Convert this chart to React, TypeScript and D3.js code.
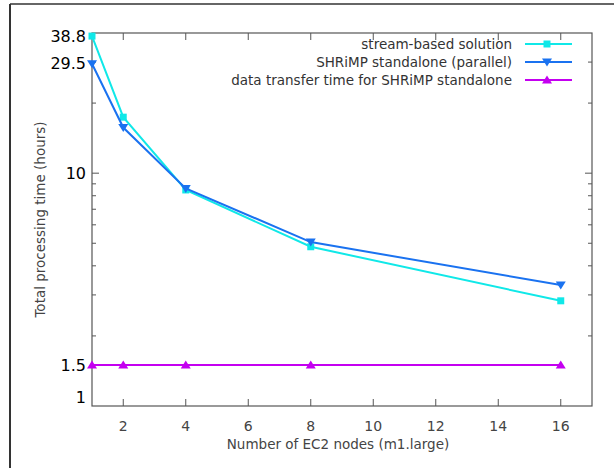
import { useEffect, useRef } from "react";
import * as d3 from "d3";

const nodes = [1, 2, 4, 8, 16];
const streamBased = [38.8, 17.4, 8.47, 4.83, 2.83];
const shrimpParallel = [29.5, 15.7, 8.6, 5.06, 3.31];
const transferTime = [1.5, 1.5, 1.5, 1.5, 1.5];

const seriesNames = [
  "stream-based solution",
  "SHRiMP standalone (parallel)",
  "data transfer time for SHRiMP standalone",
];
const seriesColors = ["#10e8e8", "#1a72f0", "#c400f0"];
const seriesSymbols = ["square", "down", "up"];

const xTicks = [2, 4, 6, 8, 10, 12, 14, 16];
const yLabels = [38.8, 29.5, 10, 1.5, 1];
const yMajor = [10];
const yMinor = [2, 3, 4, 5, 6, 7, 8, 9, 20, 30];

function App() {
  const svgRef = useRef(null);

  const width = 614;
  const height = 468;
  const margin = { top: 33, right: 22, bottom: 62, left: 92 };

  useEffect(() => {
    document.body.style.margin = "0";
    const svg = d3.select(svgRef.current);
    svg.selectAll("*").remove();

    const x = d3.scaleLinear().domain([1, 17]).range([margin.left, width - margin.right]);
    const y = d3.scaleLog().domain([1, 40]).range([height - margin.bottom, margin.top]);
    const x0 = margin.left, x1 = width - margin.right;
    const y0 = height - margin.bottom, y1 = margin.top;
    const font = "DejaVu Sans, sans-serif";
    const axisColor = "#555";

    // outer window edge
    svg.append("line").attr("x1", 10).attr("x2", 10).attr("y1", 4).attr("y2", height)
      .attr("stroke", "#333").attr("stroke-width", 2);
    svg.append("line").attr("x1", 10).attr("x2", width).attr("y1", 4).attr("y2", 4)
      .attr("stroke", "#333").attr("stroke-width", 1.5);

    const ticks = svg.append("g").attr("stroke", axisColor).attr("stroke-width", 1);
    xTicks.forEach((t) => {
      ticks.append("line").attr("x1", x(t)).attr("x2", x(t)).attr("y1", y0).attr("y2", y0 - 7);
      ticks.append("line").attr("x1", x(t)).attr("x2", x(t)).attr("y1", y1).attr("y2", y1 + 7);
    });
    const yt = yMajor.map((v) => [v, 7]).concat(yMinor.map((v) => [v, 4]));
    yt.forEach(([v, len]) => {
      ticks.append("line").attr("x1", x0).attr("x2", x0 + len).attr("y1", y(v)).attr("y2", y(v));
      ticks.append("line").attr("x1", x1).attr("x2", x1 - len).attr("y1", y(v)).attr("y2", y(v));
    });

    svg.append("rect")
      .attr("x", x0).attr("y", y1)
      .attr("width", x1 - x0).attr("height", y0 - y1)
      .attr("fill", "none").attr("stroke", axisColor).attr("stroke-width", 1.2);

    svg.append("g")
      .selectAll("text")
      .data(xTicks)
      .join("text")
      .attr("x", (d) => x(d))
      .attr("y", y0 + 20)
      .attr("dy", "0.35em")
      .attr("text-anchor", "middle")
      .attr("font-family", font)
      .attr("font-size", 14)
      .attr("fill", "#444")
      .text((d) => d);

    svg.append("g")
      .selectAll("text")
      .data(yLabels)
      .join("text")
      .attr("x", x0 - 6)
      .attr("y", (d) => (d === 1 ? y(d) - 9 : y(d)))
      .attr("dy", "0.35em")
      .attr("text-anchor", "end")
      .attr("font-family", font)
      .attr("font-size", 16)
      .attr("fill", "#000")
      .text((d) => d);

    svg.append("text")
      .attr("x", (x0 + x1) / 2 - 4)
      .attr("y", 444)
      .attr("dy", "0.35em")
      .attr("text-anchor", "middle")
      .attr("font-family", font)
      .attr("font-size", 13.5)
      .attr("fill", "#444")
      .text("Number of EC2 nodes (m1.large)");

    svg.append("text")
      .attr("transform", `translate(40,${(y0 + y1) / 2}) rotate(-90)`)
      .attr("dy", "0.35em")
      .attr("text-anchor", "middle")
      .attr("font-family", font)
      .attr("font-size", 13.5)
      .attr("fill", "#444")
      .text("Total processing time (hours)");

    const symbolFor = (s, cx, cy) => {
      if (s === "square") return `M${cx - 3.5},${cy - 3.5}h7v7h-7Z`;
      if (s === "down") return `M${cx - 5},${cy - 3.5}L${cx + 5},${cy - 3.5}L${cx},${cy + 4.5}Z`;
      return `M${cx - 5},${cy + 3.5}L${cx + 5},${cy + 3.5}L${cx},${cy - 4.5}Z`;
    };

    const allSeries = [streamBased, shrimpParallel, transferTime];
    const line = d3.line().x((d) => x(d[0])).y((d) => y(d[1]));
    const plot = svg.append("g");
    allSeries.forEach((vals, i) => {
      const pts = nodes.map((n, j) => [n, vals[j]]);
      plot.append("path").attr("d", line(pts)).attr("fill", "none")
        .attr("stroke", seriesColors[i]).attr("stroke-width", 2);
      plot.append("g")
        .selectAll("path")
        .data(pts)
        .join("path")
        .attr("d", (d) => symbolFor(seriesSymbols[i], x(d[0]), y(d[1])))
        .attr("fill", seriesColors[i]);
    });

    const legend = svg.append("g");
    seriesNames.forEach((name, i) => {
      const ly = 44 + i * 18;
      legend.append("text")
        .attr("x", 512).attr("y", ly).attr("dy", "0.35em")
        .attr("text-anchor", "end")
        .attr("font-family", font).attr("font-size", 13.5).attr("fill", "#333")
        .text(name);
      legend.append("line").attr("x1", 525).attr("x2", 572).attr("y1", ly).attr("y2", ly)
        .attr("stroke", seriesColors[i]).attr("stroke-width", 2);
      legend.append("path").attr("d", symbolFor(seriesSymbols[i], 547, ly)).attr("fill", seriesColors[i]);
    });
  }, []);

  return (
    <div>
      <svg width={width} height={height} viewBox={`0 0 ${width} ${height}`} ref={svgRef} style={{ display: "block" }}></svg>
    </div>
  );
}

export default App;
